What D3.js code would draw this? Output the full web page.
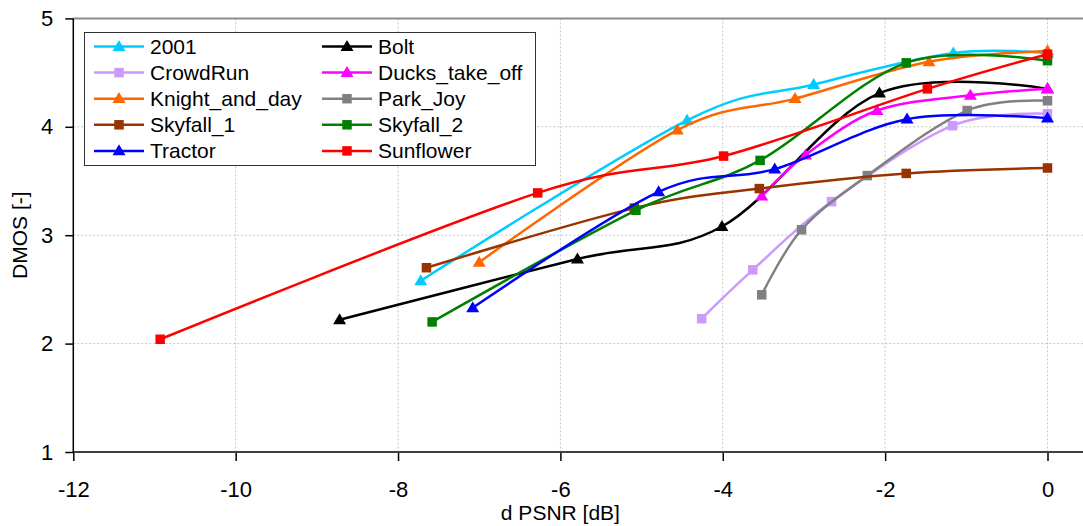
<!DOCTYPE html>
<html>
<head>
<meta charset="utf-8">
<script src="https://cdn.jsdelivr.net/npm/d3@7/dist/d3.min.js"></script>
<style>
  html, body { margin: 0; padding: 0; background: #fff; }
  svg { display: block; font-family: "Liberation Sans", Arial, sans-serif; }
</style>
</head>
<body>
<svg id="chart" width="1083" height="526"></svg>
<script>
// Sequence names (legend order) and their DMOS vs. PSNR-drop measurements
const seqNames = ["2001", "Bolt", "CrowdRun", "Ducks_take_off", "Knight_and_day",
                  "Park_Joy", "Skyfall_1", "Skyfall_2", "Tractor", "Sunflower"];

const x2001 = [-7.72, -4.44, -2.88, -1.16, 0];
const y2001 = [2.58, 4.06, 4.39, 4.68, 4.68];

const xBolt = [-8.72, -5.79, -4.01, -2.07, 0];
const yBolt = [2.22, 2.78, 3.08, 4.31, 4.35];

const xCrowdRun = [-4.26, -3.63, -2.66, -1.17, 0];
const yCrowdRun = [2.23, 2.68, 3.31, 4.01, 4.12];

const xDucks = [-3.52, -2.98, -2.10, -0.95, 0];
const yDucks = [3.36, 3.74, 4.15, 4.29, 4.35];

const xKnight = [-7.0, -4.56, -3.11, -1.46, 0];
const yKnight = [2.75, 3.97, 4.26, 4.60, 4.70];

const xParkJoy = [-3.52, -3.03, -2.22, -0.99, 0];
const yParkJoy = [2.45, 3.05, 3.55, 4.15, 4.24];

const xSkyfall1 = [-7.65, -5.09, -3.55, -1.74, 0];
const ySkyfall1 = [2.70, 3.25, 3.43, 3.57, 3.62];

const xSkyfall2 = [-7.58, -5.07, -3.54, -1.74, 0];
const ySkyfall2 = [2.20, 3.23, 3.69, 4.59, 4.61];

const xTractor = [-7.08, -4.79, -3.36, -1.73, 0];
const yTractor = [2.33, 3.40, 3.61, 4.07, 4.08];

const xSunflower = [-10.93, -6.28, -3.99, -1.48, 0];
const ySunflower = [2.04, 3.39, 3.73, 4.35, 4.67];

const xTicks = [-12, -10, -8, -6, -4, -2, 0];
const yTicks = [1, 2, 3, 4, 5];

// Styling per sequence
const seqColors = ["#00CCFF", "#000000", "#CC99FF", "#FF00FF", "#FF6600",
                   "#808080", "#993300", "#008000", "#0000FF", "#FF0000"];
const seqMarkers = ["tri", "tri", "sq", "tri", "tri", "sq", "sq", "sq", "tri", "sq"];

const seqX = [x2001, xBolt, xCrowdRun, xDucks, xKnight, xParkJoy, xSkyfall1, xSkyfall2, xTractor, xSunflower];
const seqY = [y2001, yBolt, yCrowdRun, yDucks, yKnight, yParkJoy, ySkyfall1, ySkyfall2, yTractor, ySunflower];

const series = seqNames.map((name, i) => ({
  name,
  color: seqColors[i],
  marker: seqMarkers[i],
  points: seqX[i].map((xv, j) => ({ x: xv, y: seqY[i][j] }))
}));

const svg = d3.select("#chart");
const W = 1083;

const plotL = 73.3, plotR = 1047.5, plotT = 18.4, plotB = 452;
const x = d3.scaleLinear().domain([-12, 0]).range([plotL, plotR]);
const y = d3.scaleLinear().domain([1, 5]).range([plotB, plotT]);

// Grid lines
const grid = svg.append("g");
grid.selectAll("line.gx").data(xTicks.slice(1)).enter().append("line")
  .attr("x1", d => x(d)).attr("x2", d => x(d))
  .attr("y1", plotT).attr("y2", plotB)
  .attr("stroke", "#c4c4c4").attr("stroke-width", 1).attr("stroke-dasharray", "2,2");
grid.selectAll("line.gy").data(yTicks.slice(1, -1)).enter().append("line")
  .attr("x1", plotL).attr("x2", W)
  .attr("y1", d => y(d)).attr("y2", d => y(d))
  .attr("stroke", "#c4c4c4").attr("stroke-width", 1).attr("stroke-dasharray", "2,2");

// Plot frame top edge
svg.append("line").attr("x1", plotL).attr("x2", W).attr("y1", plotT).attr("y2", plotT)
  .attr("stroke", "#8c8c8c").attr("stroke-width", 2);

// X axis
const xAxis = d3.axisBottom(x).tickValues(xTicks).tickSize(9).tickPadding(20)
  .tickFormat(d => String(d));
const gx = svg.append("g").attr("transform", `translate(0,${plotB})`).call(xAxis);
gx.select(".domain").remove();
gx.selectAll(".tick line").attr("stroke", "#000").attr("stroke-width", 1.5);
gx.selectAll(".tick text").attr("font-size", 22).attr("fill", "#000")
  .attr("font-family", "Liberation Sans, Arial, sans-serif");
svg.append("line").attr("x1", plotL).attr("x2", W).attr("y1", plotB).attr("y2", plotB)
  .attr("stroke", "#404040").attr("stroke-width", 2);

// Y axis
const yAxis = d3.axisLeft(y).tickValues(yTicks).tickSize(8).tickPadding(12)
  .tickFormat(d => String(d));
const gy = svg.append("g").attr("transform", `translate(${plotL},0)`).call(yAxis);
gy.select(".domain").remove();
gy.selectAll(".tick line").attr("stroke", "#000").attr("stroke-width", 1.5);
gy.selectAll(".tick text").attr("font-size", 22).attr("fill", "#000")
  .attr("font-family", "Liberation Sans, Arial, sans-serif");
svg.append("line").attr("x1", plotL).attr("x2", plotL).attr("y1", plotT).attr("y2", plotB + 1)
  .attr("stroke", "#000").attr("stroke-width", 1.5);

// Axis titles
svg.append("text").attr("x", (plotL + plotR) / 2).attr("y", 520)
  .attr("text-anchor", "middle").attr("font-size", 21).text("d PSNR [dB]");
svg.append("text").attr("transform", `translate(27,${(plotT + plotB) / 2}) rotate(-90)`)
  .attr("text-anchor", "middle").attr("font-size", 21).text("DMOS [-]");

// Marker drawing helper
function drawMarker(g, cx, cy, kind, color) {
  if (kind === "tri") {
    const w = 13, h = 11;
    g.append("path")
      .attr("d", `M${cx},${cy - h * 0.6}L${cx + w / 2},${cy + h * 0.4}L${cx - w / 2},${cy + h * 0.4}Z`)
      .attr("fill", color);
  } else {
    const s = 9.5;
    g.append("rect").attr("x", cx - s / 2).attr("y", cy - s / 2)
      .attr("width", s).attr("height", s).attr("fill", color);
  }
}

// Smoothed series lines with markers
const line = d3.line().x(d => x(d.x)).y(d => y(d.y)).curve(d3.curveCardinal.tension(0));
const plot = svg.append("g");
series.forEach(s => {
  const g = plot.append("g");
  g.append("path").attr("d", line(s.points)).attr("fill", "none")
    .attr("stroke", s.color).attr("stroke-width", 2.5);
  s.points.forEach(p => drawMarker(g, x(p.x), y(p.y), s.marker, s.color));
});

// Legend
const lg = svg.append("g");
lg.append("rect").attr("x", 84.5).attr("y", 32.5).attr("width", 451).attr("height", 133)
  .attr("fill", "#fff").attr("stroke", "#333").attr("stroke-width", 1);
series.forEach((s, i) => {
  const col = i % 2, row = Math.floor(i / 2);
  const lx = col === 0 ? 94 : 322;
  const ly = 46.5 + row * 26.1;
  const item = lg.append("g");
  item.append("line").attr("x1", lx).attr("x2", lx + 50).attr("y1", ly).attr("y2", ly)
    .attr("stroke", s.color).attr("stroke-width", 2.5);
  drawMarker(item, lx + 25, ly, s.marker, s.color);
  item.append("text").attr("x", lx + 56).attr("y", ly + 7.5)
    .attr("font-size", 21).text(s.name);
});
</script>
</body>
</html>
